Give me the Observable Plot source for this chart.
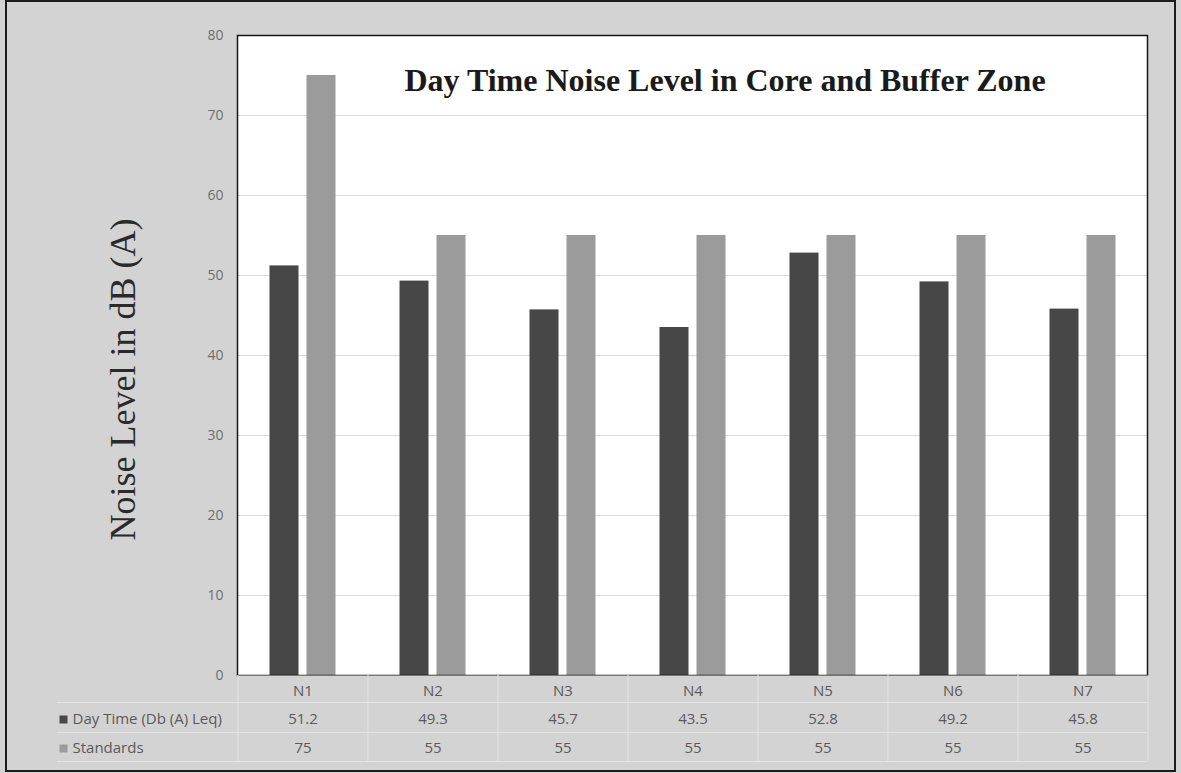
<!DOCTYPE html>
<html>
<head>
<meta charset="utf-8">
<script src="https://cdn.jsdelivr.net/npm/d3@7"></script>
<script src="https://cdn.jsdelivr.net/npm/@observablehq/plot@0.6"></script>
<style>
html, body { margin: 0; padding: 0; background: #d3d3d3; }
#wrap { position: relative; width: 1181px; height: 773px; overflow: hidden; }
#chart { position: absolute; left: 0; top: 0; }
#border { position: absolute; left: 5px; top: 0px; width: 1167px; height: 768px; border: 2px solid #1c1c1c; pointer-events: none; }
</style>
</head>
<body>
<div id="wrap"><div id="chart"></div><div id="border"></div></div>
<script>
const sites = ["N1", "N2", "N3", "N4", "N5", "N6", "N7"];
const dayTime = [51.2, 49.3, 45.7, 43.5, 52.8, 49.2, 45.8];
const standards = [75, 55, 55, 55, 55, 55, 55];
const seriesNames = ["Day Time (Db (A) Leq)", "Standards"];
const seriesColors = ["#474747", "#9b9b9b"];
const yTicks = [0, 10, 20, 30, 40, 50, 60, 70, 80];
const chartTitle = "Day Time Noise Level in Core and Buffer Zone";
const yLabel = "Noise Level in dB (A)";

const rows = sites.map((s, i) => ({site: s, day: dayTime[i], std: standards[i]}));
const tableColor = "#5a5a5a";
const tableLine = "#e4e4e4";
const tableFont = "'Open Sans', Lato, sans-serif";

const chart = Plot.plot({
  width: 1181,
  height: 773,
  marginLeft: 237,
  marginRight: 34,
  marginTop: 35,
  marginBottom: 98,
  style: {background: "transparent", fontFamily: tableFont, color: "#707070", overflow: "visible"},
  x: {domain: sites, paddingInner: 0.777, paddingOuter: 0.3885, axis: null},
  y: {domain: [0, 80], axis: null},
  marks: [
    Plot.frame({fill: "white", stroke: null}),
    Plot.ruleY(yTicks.slice(1, -1), {stroke: "#d9d9d9", strokeWidth: 1}),
    Plot.barY(rows, {x: "site", y: "day", fill: seriesColors[0], dx: -18.5}),
    Plot.barY(rows, {x: "site", y: "std", fill: seriesColors[1], dx: 18.5}),
    Plot.frame({stroke: "#151515", strokeWidth: 1.5}),
    Plot.ruleY([0], {stroke: "#d3d3d3", strokeWidth: 1.6, dy: 0.8}),
    Plot.axisY({ticks: yTicks, tickSize: 0, tickPadding: 14, fontSize: 14, label: null, fill: "#6e6e6e"}),
    // table grid
    Plot.ruleY([0], {stroke: tableLine, strokeWidth: 1, dy: 27, insetLeft: -180}),
    Plot.ruleY([0], {stroke: tableLine, strokeWidth: 1, dy: 57, insetLeft: -180}),
    Plot.ruleY([0], {stroke: tableLine, strokeWidth: 1, dy: 86, insetLeft: -180}),
    Plot.ruleX(rows, {x: "site", y1: 0, y2: 0, dx: -65, insetBottom: -86, stroke: tableLine}),
    Plot.ruleX(rows.slice(-1), {x: "site", y1: 0, y2: 0, dx: 65, insetBottom: -86, stroke: tableLine}),
    // table text
    Plot.text(rows, {x: "site", text: "site", frameAnchor: "bottom", lineAnchor: "bottom", dy: 20, fontSize: 15, fill: tableColor}),
    Plot.text(rows, {x: "site", text: d => String(d.day), frameAnchor: "bottom", lineAnchor: "bottom", dy: 48, fontSize: 15, fill: tableColor}),
    Plot.text(rows, {x: "site", text: d => String(d.std), frameAnchor: "bottom", lineAnchor: "bottom", dy: 77, fontSize: 15, fill: tableColor}),
    Plot.dot([seriesNames[0]], {frameAnchor: "bottom-left", dx: -174, dy: 44, symbol: "square", r: 4.5, fill: seriesColors[0], stroke: null}),
    Plot.dot([seriesNames[1]], {frameAnchor: "bottom-left", dx: -174, dy: 73, symbol: "square", r: 4.5, fill: seriesColors[1], stroke: null}),
    Plot.text([seriesNames[0]], {frameAnchor: "bottom-left", textAnchor: "start", lineAnchor: "bottom", dx: -165, dy: 48, fontSize: 15, fill: tableColor}),
    Plot.text([seriesNames[1]], {frameAnchor: "bottom-left", textAnchor: "start", lineAnchor: "bottom", dx: -165, dy: 77, fontSize: 15, fill: tableColor}),
    // titles
    Plot.text([chartTitle], {frameAnchor: "top", lineAnchor: "bottom", dx: 32.5, dy: 55, fontSize: 32, fontWeight: "bold", fontFamily: "'Liberation Serif', 'DejaVu Serif', serif", fill: "#1a1a1a"}),
    Plot.text([yLabel], {frameAnchor: "left", rotate: -90, lineAnchor: "bottom", textAnchor: "middle", dx: -103, dy: 24, fontSize: 36, fontFamily: "'Liberation Serif', 'DejaVu Serif', serif", fill: "#2a2a2a"})
  ]
});
document.getElementById("chart").appendChild(chart);
</script>
</body>
</html>
